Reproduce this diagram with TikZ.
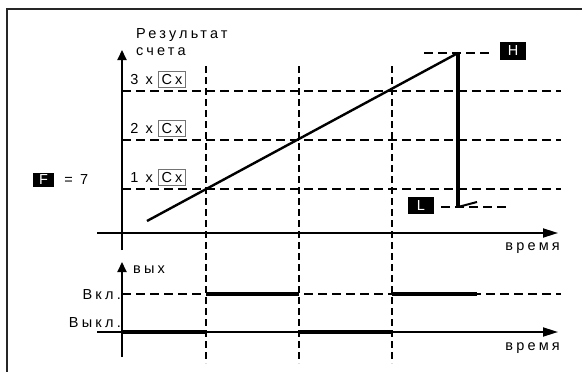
\documentclass[tikz,border=0pt]{standalone}
\usepackage{fontspec}
\setmainfont{Liberation Sans}[LetterSpace=22]
\usetikzlibrary{arrows.meta,positioning}

\begin{document}
\begin{tikzpicture}[x=1pt,y=-1pt,
  node distance=5pt,
  lbl/.style={font=\fontsize{14.5}{16}\selectfont,inner sep=0pt},
  cbox/.style={lbl,draw=black!55,line width=1pt,minimum width=27pt,minimum height=16pt},
  tag/.style={lbl,fill=black,text=white,minimum width=26pt,minimum height=18pt},
  axis/.style={line width=1.8pt,-{Triangle[length=15pt,width=9pt]}},
  yaxis/.style={line width=2pt,-{Triangle[length=10pt,width=9pt]}},
  grid/.style={line width=2pt,dash pattern=on 9pt off 5pt},
  vgrid/.style={line width=2pt,dash pattern=on 7pt off 4pt},
  sig/.style={line width=4pt}]
\useasboundingbox (0,0) rectangle (582,372);
\draw[line width=2.4pt,black!85] (7,372) -- (7,9) -- (582,9);
\coordinate (yb) at (122,250); \coordinate (yt) at (122,50);
\coordinate (xl) at (97,233); \coordinate (xr) at (558,233);
\coordinate (vb) at (122,357); \coordinate (vt) at (122,262);
\coordinate (wl) at (97,332); \coordinate (wr) at (558,332);
\coordinate (on0) at (122,294); \coordinate (on4) at (561,294);
\foreach \n/\y in {1/189,2/140,3/91} {
  \coordinate (a\n) at (122,\y); \coordinate (b\n) at (561,\y);
  \draw[grid] (a\n) -- (b\n);
  \node[cbox,anchor=south] (c\n) at (172,\y-3) {Cx};
  \node[lbl,left=of c\n] (k\n) {\n\ x};
}
\foreach \i/\x in {1/206,2/299,3/392} {
  \coordinate (t\i) at (\x,66); \coordinate (u\i) at (\x,363);
  \draw[vgrid] (t\i) -- (u\i);
}
\draw[axis] (xl) -- (xr); \draw[yaxis] (yb) -- (yt);
\draw[axis] (wl) -- (wr); \draw[yaxis] (vb) -- (vt);
\node[lbl,anchor=base west] (res) at (136,38) {Результат};
\node[lbl,anchor=base west] (sch) at (136,55) {счета};
\node[lbl,anchor=base east] (tm1) at (560,250) {время};
\node[lbl,anchor=base east] (tm2) at (560,350) {время};
\node[lbl,anchor=base west] (out) at (133,273) {вых};
\node[lbl,anchor=base east] (von) at (121,299) {Вкл.};
\node[lbl,anchor=base east] (voff) at (121,327) {Выкл.};
\node[tag,minimum width=21pt,minimum height=14pt] (F) at (43.5,180) {F};
\node[lbl,right=10pt of F] (fv) {= 7};
\coordinate (s) at (147,221); \coordinate (hi) at (458,53);
\coordinate (lo) at (458,207); \coordinate (re) at (477,202);
\coordinate (hl) at (424,53); \coordinate (le) at (510,207);
\node[tag] (H) at (513,50.5) {H};
\node[tag,minimum height=17pt] (L) at (421,205.5) {L};
\draw[grid] (hl) -- (hl -| H.west) [shorten >=7pt];
\draw[grid,shorten <=7pt] (lo -| L.east) -- (le);
\draw[line width=2.4pt] (s) -- (hi);
\draw[line width=3.4pt] (hi) -- (lo);
\draw[line width=2pt] (lo) -- (re);
\draw[grid] (on0) -- (on4);
\draw[sig] (t1 |- on0) -- (t2 |- on0); \draw[sig] (t3 |- on0) -- (477,294);
\draw[sig] (vb |- wl) -- (t1 |- wl); \draw[sig] (t2 |- wl) -- (t3 |- wl);
\end{tikzpicture}
\end{document}
